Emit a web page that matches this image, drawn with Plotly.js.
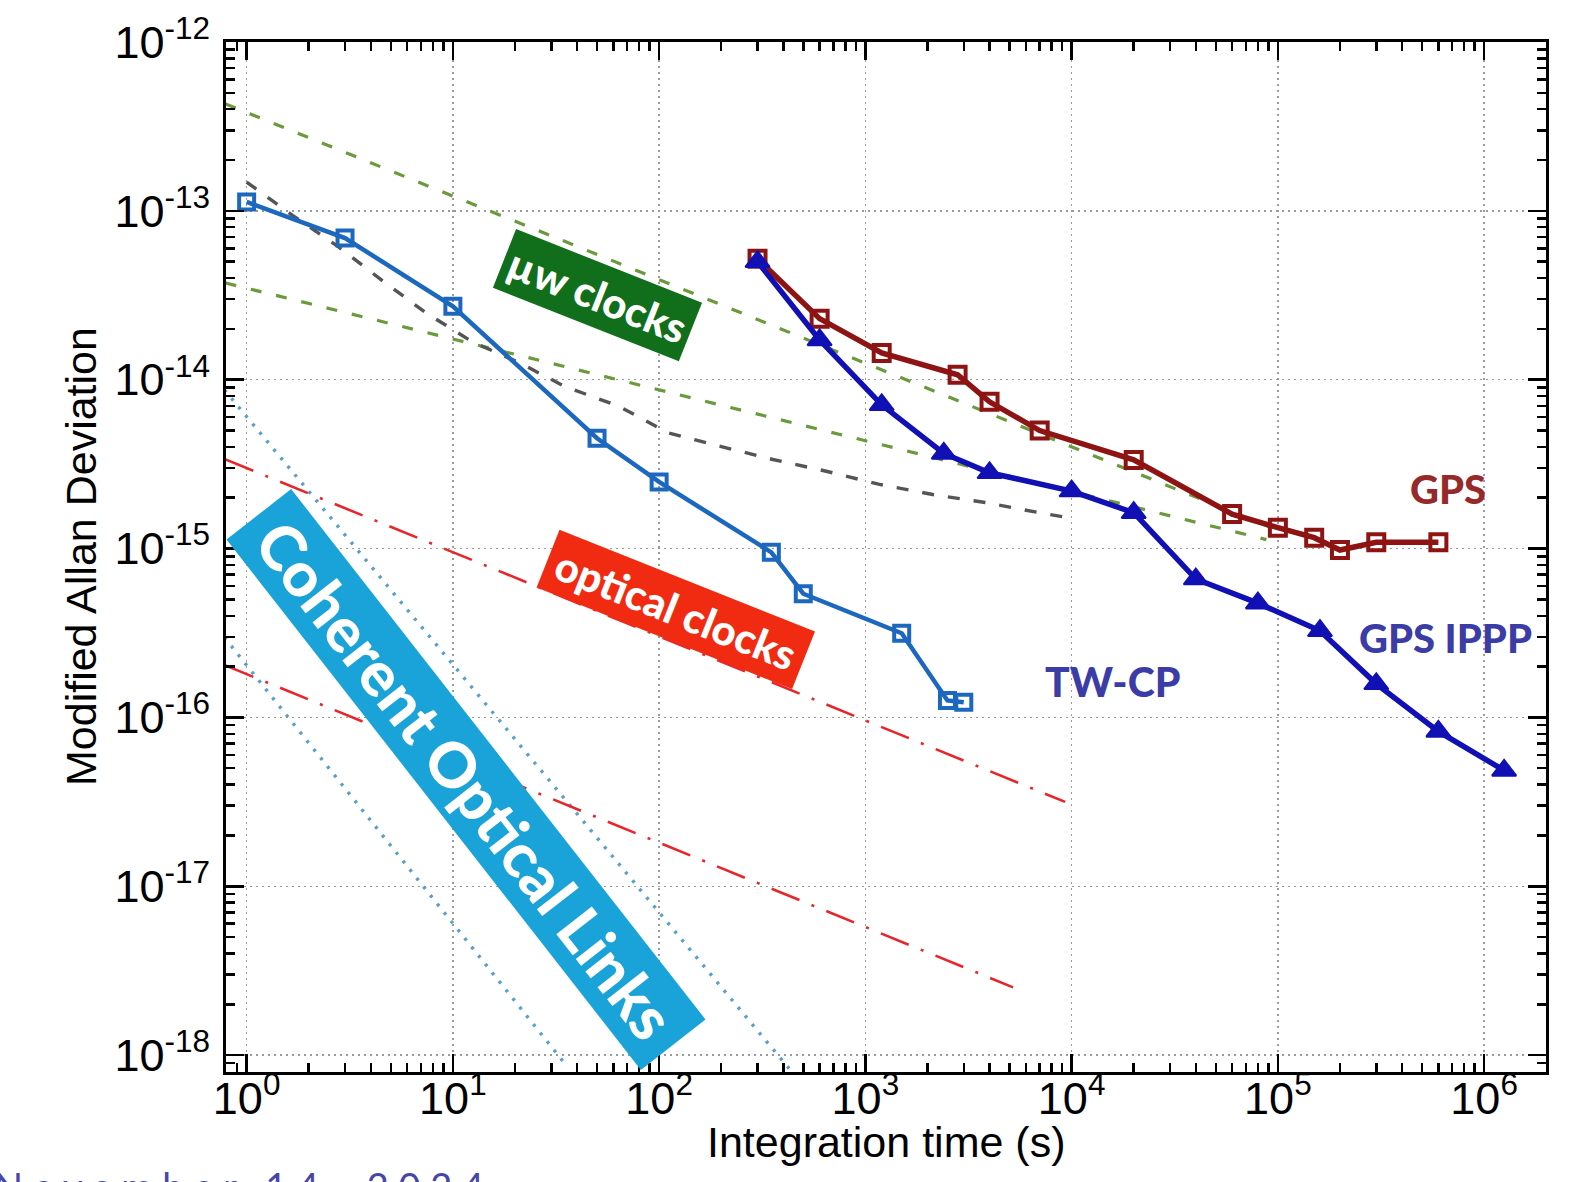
<!DOCTYPE html>
<html><head><meta charset="utf-8">
<script src="https://cdn.plot.ly/plotly-3.0.1.min.js"></script>
<style>html,body{margin:0;padding:0;background:#fff;}#chart{width:1589px;height:1182px;}</style>
</head><body><div id="chart"></div>
<script>
// ---- data ----
const twcpTau  = [1, 3, 10, 50, 100, 350, 500, 1500, 2500, 3000];
const twcpAdev = [1.13e-13, 6.9e-14, 2.72e-14, 4.5e-15, 2.48e-15, 9.5e-16, 5.4e-16, 3.15e-16, 1.26e-16, 1.23e-16];

const gpsTau  = [300, 600, 1200, 2800, 4000, 7000, 2e4, 6e4, 1e5, 1.5e5, 2e5, 3e5, 6e5];
const gpsAdev = [5.2e-14, 2.3e-14, 1.44e-14, 1.07e-14, 7.4e-15, 5.0e-15, 3.35e-15, 1.6e-15, 1.33e-15, 1.16e-15, 9.8e-16, 1.09e-15, 1.09e-15];

const ipppTau  = [300, 600, 1200, 2400, 4000, 1e4, 2e4, 4e4, 8e4, 1.6e5, 3e5, 6e5, 1.25e6];
const ipppAdev = [5.0e-14, 1.72e-14, 7.1e-15, 3.66e-15, 2.81e-15, 2.19e-15, 1.63e-15, 6.6e-16, 4.75e-16, 3.26e-16, 1.58e-16, 8.26e-17, 4.85e-17];

// microwave-clock guide lines (green dashed)
const mwUpperTau = [0.79, 9e4];
const mwUpperAdev = [4.3e-13, 1.35e-15];
const mwLowerTau = [0.79, 8.8e4];
const mwLowerAdev = [3.74e-14, 1.13e-15];

// grey dashed curve
const greyTau  = [1, 1.67, 2.8, 4.5, 7.4, 12.4, 21, 35, 64, 111, 196, 356, 646, 1170, 2120, 3850, 6980, 9800];
const greyAdev = [1.48e-13, 9.4e-14, 6.1e-14, 3.9e-14, 2.49e-14, 1.68e-14, 1.26e-14, 9.1e-15, 6.95e-15, 4.84e-15, 4.04e-15, 3.37e-15, 2.87e-15, 2.4e-15, 2.09e-15, 1.87e-15, 1.63e-15, 1.52e-15];

// optical-clock guide lines (red dash-dot)
const optUpperTau = [0.79, 9300];
const optUpperAdev = [3.37e-15, 3.16e-17];
const optLowerTau = [0.79, 5200];
const optLowerAdev = [2.03e-16, 2.52e-18];

// coherent optical links guide lines (light blue dotted)
const colUpperTau = [0.78, 431];
const colUpperAdev = [8.7e-15, 8.2e-19];
const colLowerTau = [0.78, 36];
const colLowerAdev = [2.98e-16, 8.5e-19];

const xTickVals = [1, 10, 100, 1e3, 1e4, 1e5, 1e6];
const xTickText = ['10<sup>0</sup>', '10<sup>1</sup>', '10<sup>2</sup>', '10<sup>3</sup>', '10<sup>4</sup>', '10<sup>5</sup>', '10<sup>6</sup>'];
const yTickVals = [1e-18, 1e-17, 1e-16, 1e-15, 1e-14, 1e-13, 1e-12];
const yTickText = ['10<sup>-18</sup>', '10<sup>-17</sup>', '10<sup>-16</sup>', '10<sup>-15</sup>', '10<sup>-14</sup>', '10<sup>-13</sup>', '10<sup>-12</sup>'];

const xTitle = 'Integration time (s)';
const yTitle = 'Modified Allan Deviation';

// ---- layout geometry (pixels) ----
const W = 1589, H = 1182;
const L = 226, R = 1546, T = 42, B = 1072;
function px(x) { return (x - L) / (R - L); }
function py(y) { return (B - y) / (B - T); }

const SANS = 'Liberation Sans, Arial, sans-serif';
const LABEL = 'Lato, Open Sans, sans-serif';

function guide(x, y, color, width, dash) {
  return {x: x, y: y, mode: 'lines', type: 'scatter', hoverinfo: 'skip', showlegend: false,
          line: {color: color, width: width, dash: dash}};
}

const traces = [
  guide(colUpperTau, colUpperAdev, '#5a9fca', 3.4, '3px,8px'),
  guide(colLowerTau, colLowerAdev, '#5a9fca', 3.4, '3px,8px'),
  guide(optUpperTau, optUpperAdev, '#e8262a', 2.6, '30px,13px,3px,13px'),
  guide(optLowerTau, optLowerAdev, '#e8262a', 2.6, '30px,13px,3px,13px'),
  guide(mwUpperTau, mwUpperAdev, '#6b9a3c', 3.2, '11px,15px'),
  guide(mwLowerTau, mwLowerAdev, '#6b9a3c', 3.2, '11px,15px'),
  guide(greyTau, greyAdev, '#555555', 3.4, '12px,14px'),
  {name: 'TW-CP', x: twcpTau, y: twcpAdev, type: 'scatter', mode: 'lines+markers', showlegend: false,
   line: {color: '#1c68bf', width: 4.5},
   marker: {symbol: 'square-open', size: 15, color: '#1c68bf', line: {width: 4, color: '#1c68bf'}}},
  {name: 'GPS', x: gpsTau, y: gpsAdev, type: 'scatter', mode: 'lines+markers', showlegend: false,
   line: {color: '#8e1414', width: 5.5},
   marker: {symbol: 'square-open', size: 16, color: '#8e1414', line: {width: 4, color: '#8e1414'}}},
  {name: 'GPS IPPP', x: ipppTau, y: ipppAdev, type: 'scatter', mode: 'lines+markers', showlegend: false,
   line: {color: '#1010b4', width: 5.5},
   marker: {symbol: 'triangle-up', size: 21, color: '#1010b4', line: {width: 2, color: '#1010b4'}}}
];

const axisCommon = {
  type: 'log',
  showline: true, linewidth: 3, linecolor: '#000', mirror: 'allticks',
  ticks: 'inside', ticklen: 18, tickwidth: 2.5, tickcolor: '#000',
  showgrid: true, gridcolor: '#9a9a9a', gridwidth: 1.3, griddash: '2px,4px',
  zeroline: false,
  tickmode: 'array',
  tickfont: {family: SANS, size: 45, color: '#000'},
  minor: {ticks: 'inside', ticklen: 9, tickwidth: 2.5, tickcolor: '#000', dtick: 'D1', showgrid: false}
};

const layout = {
  width: W, height: H,
  margin: {l: L, r: W - R, t: T, b: H - B, pad: 0},
  paper_bgcolor: '#fff', plot_bgcolor: '#fff',
  showlegend: false,
  font: {family: SANS, color: '#000'},
  xaxis: Object.assign({}, axisCommon, {
    range: [-0.10, 6.30], tickvals: xTickVals, ticktext: xTickText, ticklabelstandoff: -15
  }),
  yaxis: Object.assign({}, axisCommon, {
    range: [-18.1, -12.0], tickvals: yTickVals, ticktext: yTickText, ticklabelstandoff: 4
  }),
  annotations: [
    // axis titles
    {xref: 'paper', yref: 'paper', x: 0.5, y: py(1142), xanchor: 'center', yanchor: 'middle',
     text: xTitle, showarrow: false, font: {family: SANS, size: 43, color: '#000'}},
    {xref: 'paper', yref: 'paper', x: px(81), y: 0.5, xanchor: 'center', yanchor: 'middle',
     text: yTitle, showarrow: false, textangle: -90, font: {family: SANS, size: 43, color: '#000'}},
    // banners
    {xref: 'paper', yref: 'paper', x: px(597), y: py(295), xanchor: 'center', yanchor: 'middle',
     text: 'µw clocks', showarrow: false, textangle: 21.6,
     width: 191, height: 54, borderpad: 4, bgcolor: '#116f1c',
     font: {family: LABEL, size: 42, weight: 900, color: '#fff'}},
    {xref: 'paper', yref: 'paper', x: px(676), y: py(609), xanchor: 'center', yanchor: 'middle',
     text: 'optical clocks', showarrow: false, textangle: 21.7,
     width: 266, height: 53, borderpad: 4, bgcolor: '#f02b12',
     font: {family: LABEL, size: 42, weight: 900, color: '#fff'}},
    {xref: 'paper', yref: 'paper', x: px(466), y: py(779.5), xanchor: 'center', yanchor: 'middle',
     text: 'Coherent Optical Links', showarrow: false, textangle: 52,
     width: 664, height: 73, borderpad: 4, bgcolor: '#1aa3d9',
     font: {family: LABEL, size: 62, weight: 900, color: '#fff'}},
    // series labels
    {xref: 'paper', yref: 'paper', x: px(1448), y: py(489), xanchor: 'center', yanchor: 'middle',
     text: 'GPS', showarrow: false,
     font: {family: LABEL, size: 40, weight: 900, color: '#962a2a'}},
    {xref: 'paper', yref: 'paper', x: px(1445), y: py(637.5), xanchor: 'center', yanchor: 'middle',
     text: 'GPS IPPP', showarrow: false,
     font: {family: LABEL, size: 40, weight: 900, color: '#3c3ca6'}},
    {xref: 'paper', yref: 'paper', x: px(1112), y: py(681), xanchor: 'center', yanchor: 'middle',
     text: 'TW-CP', showarrow: false,
     font: {family: LABEL, size: 41, weight: 900, color: '#3c3ca6'}},
    // footer (cut off at the bottom edge, as in the reference)
    {xref: 'paper', yref: 'paper', x: px(-8), y: py(1161), xanchor: 'left', yanchor: 'top',
     text: 'N o v e m b e r\u00A0\u00A0 1 4 ,\u00A0\u00A0 2 0 2 4', showarrow: false,
     font: {family: 'Lato, sans-serif', size: 38, color: '#4646a8'}}
  ]
};

Plotly.newPlot('chart', traces, layout, {displayModeBar: false, staticPlot: true});
</script>
</body></html>
